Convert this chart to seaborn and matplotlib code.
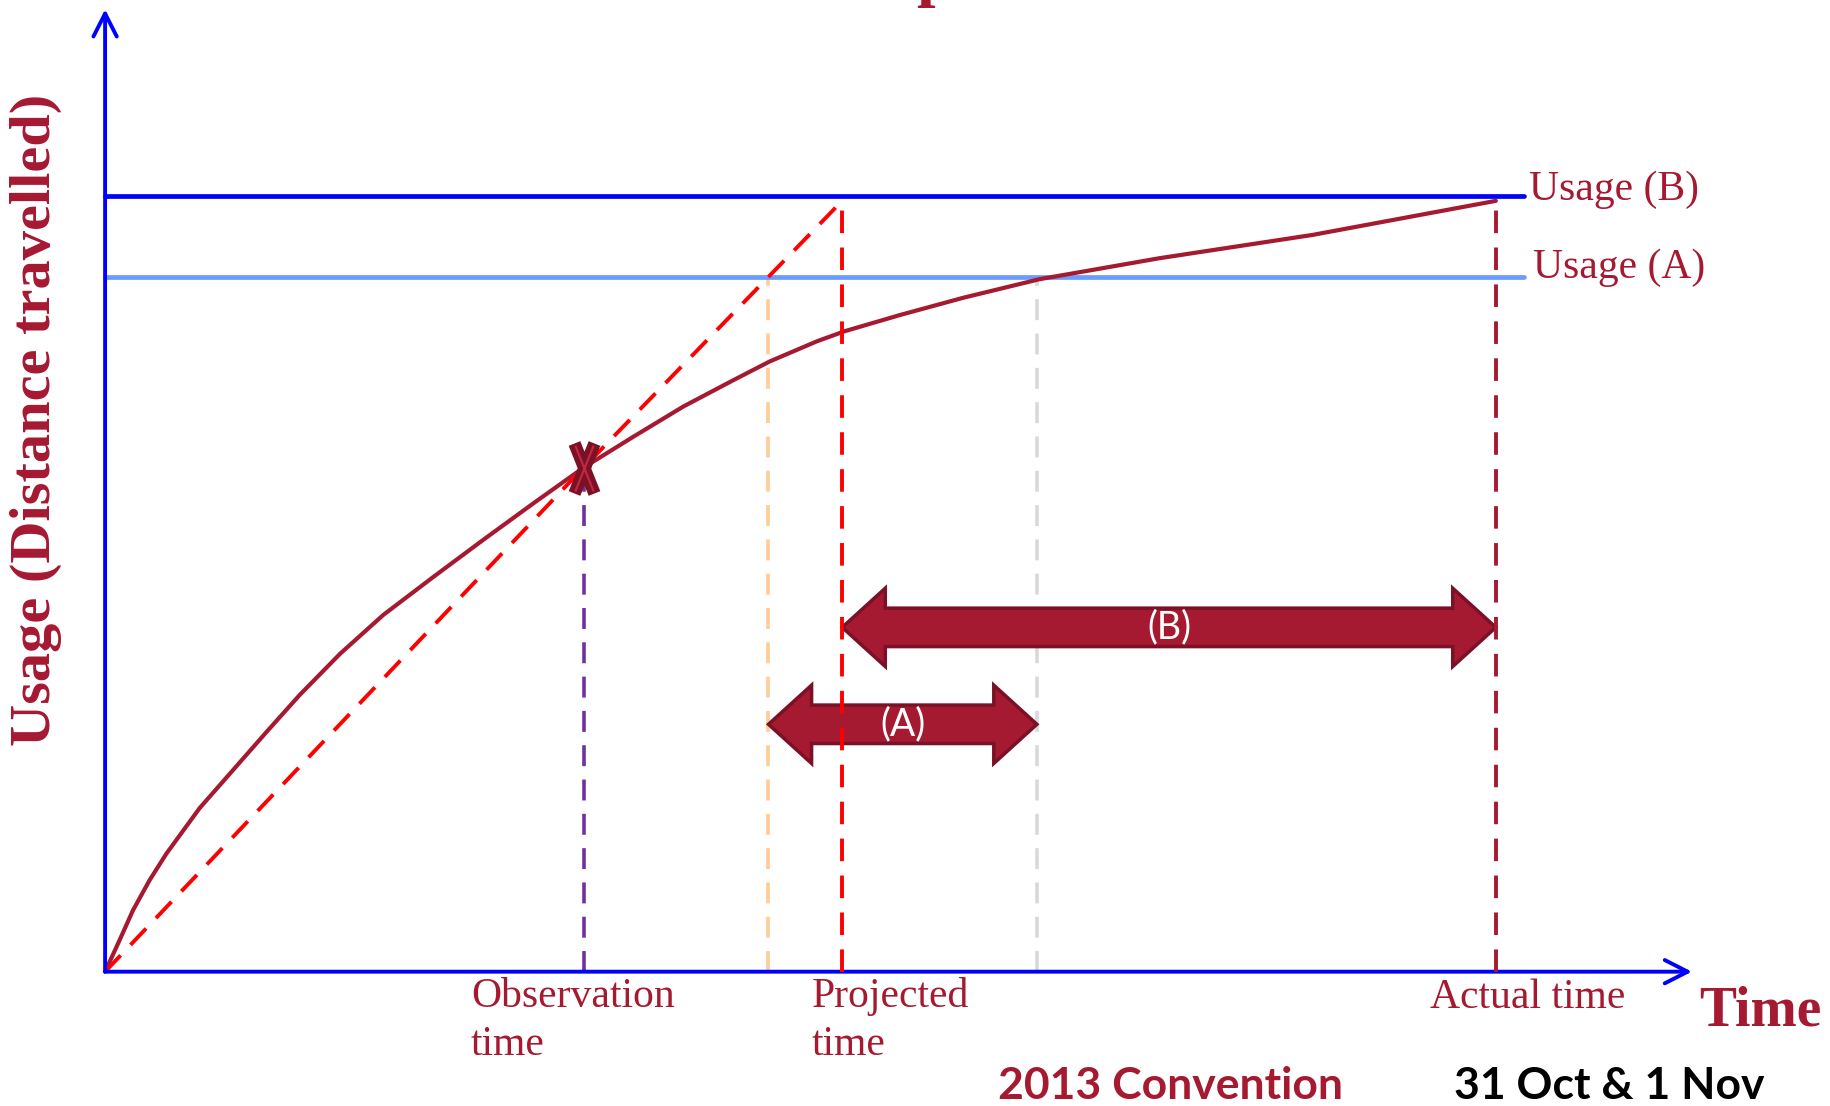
import matplotlib
matplotlib.use("Agg")
import matplotlib.pyplot as plt
import seaborn as sns
from matplotlib.patches import Polygon
from matplotlib.path import Path

# ---- data -----------------------------------------------------------------
# usage curve: time in arbitrary units, usage as % of usage level (B)
curve_time = [0.0, 0.10, 0.20, 0.32, 0.44, 0.68, 0.92, 1.16, 1.40, 1.69,
              2.00, 2.36, 2.72, 3.08, 3.44, 3.80, 4.16, 4.52, 4.78, 5.12,
              5.32, 5.72, 6.17, 6.72, 7.58, 8.68, 9.34, 10.0]
curve_usage = [0.0, 3.9, 7.9, 11.8, 15.2, 21.1, 26.0, 30.9, 35.7, 41.0,
               46.0, 50.9, 55.7, 60.4, 65.0, 69.0, 72.9, 76.3, 78.7, 81.3,
               82.6, 84.7, 86.9, 89.3, 92.0, 95.0, 97.2, 99.4]

usage_names = ["Usage (B)", "Usage (A)"]
usage_values = [100.0, 89.6]
usage_end_time = 10.2

observation_time = 3.44
observation_usage = 65.0
projected_time_a = 4.77   # straight-line projection reaches usage (A)
projected_time_b = 5.30   # straight-line projection reaches usage (B)
actual_time_a = 6.70      # curve reaches usage (A)
actual_time_b = 10.0      # curve reaches usage (B)
final_usage = 99.4

projection_time = [0.0, observation_time, projected_time_b]
projection_usage = [0.0, observation_usage, final_usage]

gap_labels = ["(A)", "(B)"]
gap_start = [projected_time_a, projected_time_b]
gap_end = [actual_time_a, actual_time_b]

time_labels = ["Observation\ntime", "Projected\ntime", "Actual time"]

# ---- style ----------------------------------------------------------------
sns.set_theme(style="white")
plt.rcParams["font.family"] = ["Liberation Serif", "DejaVu Serif"]

DARK_RED = "#A51931"
EDGE_RED = "#7A1126"
BLUE = "#0000FF"
LIGHT_BLUE = "#6B9BFF"

fig = plt.figure(figsize=(18.31, 11.06), dpi=100)
ax = fig.add_axes([0, 0, 1, 1])
ax.set_xlim(-0.7557, 12.41)
ax.set_ylim(-17.32, 125.3)
ax.axis("off")

dash = (0, (5.8, 3.7))

# axes drawn as arrows
axis_kw = dict(arrowstyle="->,head_length=0.55,head_width=0.28",
               color=BLUE, lw=2.8, shrinkA=0, shrinkB=0, mutation_scale=30)
ax.annotate("", xy=(11.41, 0), xytext=(0, 0), arrowprops=axis_kw, zorder=6)
ax.annotate("", xy=(0, 124.1), xytext=(0, 0), arrowprops=axis_kw, zorder=6)

# usage levels
sns.lineplot(x=[0, usage_end_time], y=[usage_values[0]] * 2, ax=ax,
             color=BLUE, lw=3.4, zorder=3)
sns.lineplot(x=[0, usage_end_time], y=[usage_values[1]] * 2, ax=ax,
             color=LIGHT_BLUE, lw=3.4, zorder=3)
ax.text(usage_end_time + 0.04, usage_values[0] + 0.8, usage_names[0],
        color=DARK_RED, fontsize=30, va="center", ha="left")
ax.text(usage_end_time + 0.07, usage_values[1] + 1.2, usage_names[1],
        color=DARK_RED, fontsize=30, va="center", ha="left")

# vertical guide lines
ax.vlines(actual_time_a, 0, usage_values[1], color="#D9D9D9", lw=2.6,
          linestyles=[dash], zorder=2)
ax.vlines(projected_time_a, 0, usage_values[1], color="#FFCC99", lw=2.6,
          linestyles=[dash], zorder=2)
ax.vlines(observation_time, 0, observation_usage, color="#7030A0", lw=2.6,
          linestyles=[dash], zorder=2)

# usage curve and straight-line projection
sns.lineplot(x=curve_time, y=curve_usage, ax=ax, color=DARK_RED, lw=3.0,
             zorder=4)
ax.plot(projection_time, projection_usage, color="#FF0000", lw=2.8,
        linestyle=dash, zorder=4)


def double_arrow(t0, t1, level, label):
    head_len, head, shaft = 0.31, 5.05, 2.48
    verts = [(t0, level), (t0 + head_len, level + head),
             (t0 + head_len, level + shaft), (t1 - head_len, level + shaft),
             (t1 - head_len, level + head), (t1, level),
             (t1 - head_len, level - head), (t1 - head_len, level - shaft),
             (t0 + head_len, level - shaft), (t0 + head_len, level - head)]
    ax.add_patch(Polygon(verts, closed=True, facecolor=DARK_RED,
                         edgecolor=EDGE_RED, lw=2.5, joinstyle="miter",
                         zorder=5))
    ax.text((t0 + t1) / 2, level, label, color="white", fontsize=27,
            ha="center", va="center", family=["Lato", "DejaVu Sans"],
            zorder=6)


double_arrow(gap_start[0], gap_end[0], 31.9, gap_labels[0])
double_arrow(gap_start[1], gap_end[1], 44.4, gap_labels[1])

ax.vlines(projected_time_b, 0, final_usage, color="#FF0000", lw=2.8,
          linestyles=[dash], zorder=7)
ax.vlines(actual_time_b, 0, final_usage, color=DARK_RED, lw=2.8,
          linestyles=[dash], zorder=7)

# observation point
x_mark = Path([(-0.4, -1), (0.4, 1), (-0.4, 1), (0.4, -1)],
              [Path.MOVETO, Path.LINETO, Path.MOVETO, Path.LINETO])
ax.plot([observation_time], [observation_usage], marker=x_mark,
        markersize=36, markeredgewidth=9, color=EDGE_RED, ls="none",
        zorder=8)
ax.plot([observation_time], [observation_usage], marker=x_mark,
        markersize=33, markeredgewidth=1.6, color="#C0283F", ls="none",
        zorder=9)

# time labels
ax.text(observation_time - 0.81, -0.7, time_labels[0], color=DARK_RED,
        fontsize=30, ha="left", va="top", linespacing=1.32)
ax.text(projected_time_b - 0.22, -0.7, time_labels[1], color=DARK_RED,
        fontsize=30, ha="left", va="top", linespacing=1.32)
ax.text(actual_time_b - 0.47, -0.9, time_labels[2], color=DARK_RED,
        fontsize=30, ha="left", va="top")
ax.text(11.46, -5.1, "Time", color=DARK_RED, fontsize=40,
        fontweight="bold", ha="left", va="center")
ax.text(-0.50, 71.2, "Usage (Distance travelled)", color=DARK_RED,
        fontsize=42, fontweight="bold", rotation=90, ha="center",
        va="center")

# heading (runs off the top edge) and footer
fig.text(0.5105, 1.005, "p", color=DARK_RED, fontsize=48,
         fontweight="bold", ha="center", va="baseline")
fig.text(0.545, 0.006, "2013 Convention", color=DARK_RED, fontsize=32,
         fontweight="bold", family=["Lato", "DejaVu Sans"], ha="left",
         va="baseline")
fig.text(0.794, 0.006, "31 Oct & 1 Nov", color="black", fontsize=32,
         fontweight="bold", family=["Lato", "DejaVu Sans"], ha="left",
         va="baseline")

fig.savefig("out.png", dpi=100)
